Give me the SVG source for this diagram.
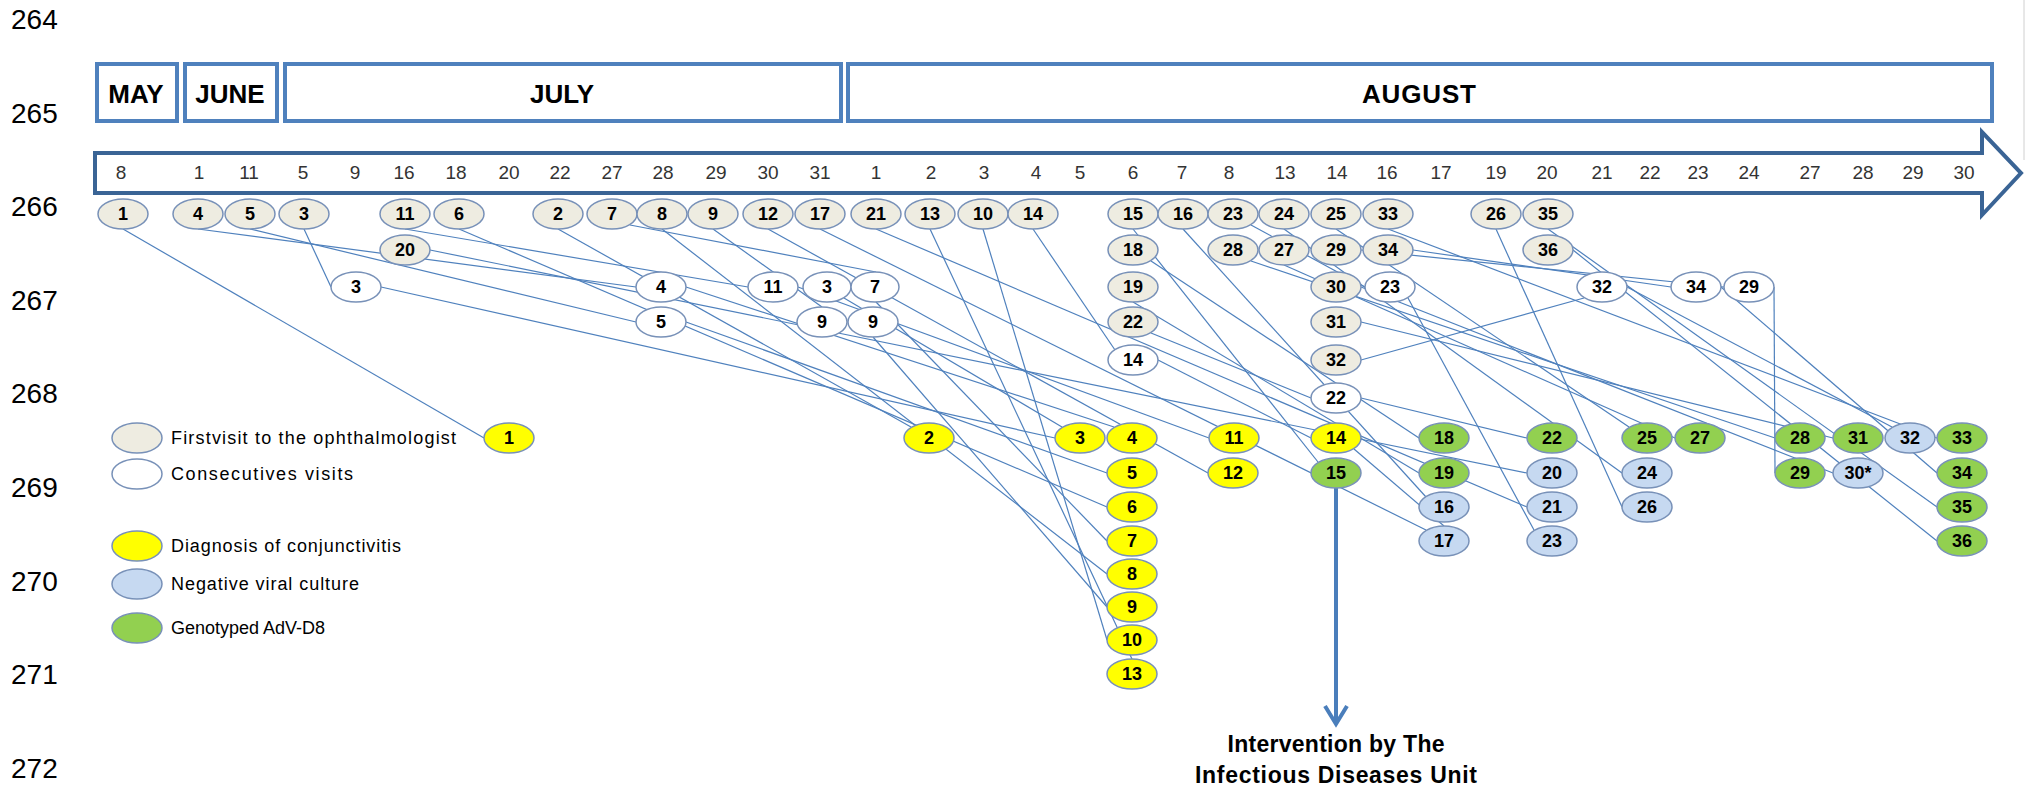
<svg xmlns="http://www.w3.org/2000/svg" width="2028" height="791" viewBox="0 0 2028 791">
<style>
.pg{font-family:"Liberation Sans",Arial,sans-serif;font-size:28px;fill:#000}
.mo{font-family:"Liberation Sans",Arial,sans-serif;font-size:26px;font-weight:bold;fill:#000;text-anchor:middle}
.dy{font-family:"Liberation Sans",Arial,sans-serif;font-size:19px;fill:#333;text-anchor:middle}
.box{fill:#fff;stroke:#4f81bd;stroke-width:4}
.n ellipse{stroke:#7891b8;stroke-width:1.5}
.n text{font-family:"Liberation Sans",Arial,sans-serif;font-size:18px;font-weight:bold;fill:#000;text-anchor:middle}
.g ellipse{fill:#eeece1}
.w ellipse{fill:#fff}
.y ellipse{fill:#ffff00}
.gr ellipse{fill:#92d050}
.b ellipse{fill:#c6d9f1}
.lg{font-family:"Liberation Sans",Arial,sans-serif;font-size:18px;fill:#000}
.it{font-family:"Liberation Sans",Arial,sans-serif;font-size:23px;font-weight:bold;fill:#000;text-anchor:middle}
#connectors line{stroke:#4f81bd;stroke-width:1.2}
</style>
<rect width="2028" height="791" fill="#fff"/>
<line x1="2024" y1="0" x2="2024" y2="160" stroke="#d0d0d0" stroke-width="1"/>
<g id="page-numbers">
<text class="pg" x="11" y="29">264</text>
<text class="pg" x="11" y="123">265</text>
<text class="pg" x="11" y="216">266</text>
<text class="pg" x="11" y="310">267</text>
<text class="pg" x="11" y="403">268</text>
<text class="pg" x="11" y="497">269</text>
<text class="pg" x="11" y="591">270</text>
<text class="pg" x="11" y="684">271</text>
<text class="pg" x="11" y="778">272</text>
</g>
<g id="months">
<rect class="box" x="97" y="64" width="80" height="57"/>
<text class="mo" x="136" y="103">MAY</text>
<rect class="box" x="185" y="64" width="92" height="57"/>
<text class="mo" x="230" y="103">JUNE</text>
<rect class="box" x="285" y="64" width="556" height="57"/>
<text class="mo" x="562" y="103">JULY</text>
<rect class="box" x="848" y="64" width="1144" height="57"/>
<text class="mo" x="1419" y="103" textLength="114">AUGUST</text>
</g>
<g id="timeline">
<path d="M95,153 H1982 V132 L2021,173 L1982,215 V193 H95 Z" fill="#fff" stroke="#3a6495" stroke-width="4" stroke-linejoin="miter"/>
<text class="dy" x="121" y="179">8</text>
<text class="dy" x="199" y="179">1</text>
<text class="dy" x="249" y="179">11</text>
<text class="dy" x="303" y="179">5</text>
<text class="dy" x="355" y="179">9</text>
<text class="dy" x="404" y="179">16</text>
<text class="dy" x="456" y="179">18</text>
<text class="dy" x="509" y="179">20</text>
<text class="dy" x="560" y="179">22</text>
<text class="dy" x="612" y="179">27</text>
<text class="dy" x="663" y="179">28</text>
<text class="dy" x="716" y="179">29</text>
<text class="dy" x="768" y="179">30</text>
<text class="dy" x="820" y="179">31</text>
<text class="dy" x="876" y="179">1</text>
<text class="dy" x="931" y="179">2</text>
<text class="dy" x="984" y="179">3</text>
<text class="dy" x="1036" y="179">4</text>
<text class="dy" x="1080" y="179">5</text>
<text class="dy" x="1133" y="179">6</text>
<text class="dy" x="1182" y="179">7</text>
<text class="dy" x="1229" y="179">8</text>
<text class="dy" x="1285" y="179">13</text>
<text class="dy" x="1337" y="179">14</text>
<text class="dy" x="1387" y="179">16</text>
<text class="dy" x="1441" y="179">17</text>
<text class="dy" x="1496" y="179">19</text>
<text class="dy" x="1547" y="179">20</text>
<text class="dy" x="1602" y="179">21</text>
<text class="dy" x="1650" y="179">22</text>
<text class="dy" x="1698" y="179">23</text>
<text class="dy" x="1749" y="179">24</text>
<text class="dy" x="1810" y="179">27</text>
<text class="dy" x="1863" y="179">28</text>
<text class="dy" x="1913" y="179">29</text>
<text class="dy" x="1964" y="179">30</text>
</g>
<g id="connectors">
<line x1="123" y1="229" x2="484" y2="438"/>
<line x1="558" y1="229" x2="911" y2="427"/>
<line x1="304" y1="229" x2="331" y2="287"/>
<line x1="381" y1="287" x2="1055" y2="438"/>
<line x1="844" y1="298" x2="1062" y2="427"/>
<line x1="198" y1="229" x2="636" y2="287"/>
<line x1="686" y1="287" x2="1114" y2="427"/>
<line x1="250" y1="229" x2="636" y2="322"/>
<line x1="686" y1="322" x2="1107" y2="473"/>
<line x1="459" y1="229" x2="1107" y2="507"/>
<line x1="630" y1="225" x2="876" y2="272"/>
<line x1="876" y1="302" x2="1107" y2="541"/>
<line x1="662" y1="229" x2="1107" y2="574"/>
<line x1="713" y1="229" x2="822" y2="307"/>
<line x1="873" y1="337" x2="1107" y2="607"/>
<line x1="983" y1="229" x2="1107" y2="640"/>
<line x1="405" y1="229" x2="748" y2="287"/>
<line x1="798" y1="287" x2="1209" y2="438"/>
<line x1="768" y1="229" x2="1208" y2="473"/>
<line x1="930" y1="229" x2="1132" y2="659"/>
<line x1="1033" y1="229" x2="1115" y2="350"/>
<line x1="1158" y1="360" x2="1311" y2="438"/>
<line x1="1133" y1="229" x2="1318" y2="462"/>
<line x1="1183" y1="229" x2="1426" y2="497"/>
<line x1="820" y1="229" x2="1426" y2="530"/>
<line x1="1151" y1="261" x2="1419" y2="438"/>
<line x1="1133" y1="302" x2="1419" y2="473"/>
<line x1="430" y1="250" x2="1527" y2="473"/>
<line x1="876" y1="229" x2="1527" y2="507"/>
<line x1="1151" y1="333" x2="1311" y2="398"/>
<line x1="1361" y1="398" x2="1527" y2="438"/>
<line x1="1251" y1="225" x2="1365" y2="287"/>
<line x1="1408" y1="298" x2="1534" y2="530"/>
<line x1="1284" y1="229" x2="1622" y2="473"/>
<line x1="1336" y1="229" x2="1629" y2="427"/>
<line x1="1496" y1="229" x2="1622" y2="507"/>
<line x1="1284" y1="265" x2="1675" y2="438"/>
<line x1="1251" y1="261" x2="1775" y2="438"/>
<line x1="1361" y1="250" x2="1724" y2="287"/>
<line x1="1774" y1="287" x2="1775" y2="473"/>
<line x1="1361" y1="287" x2="1833" y2="473"/>
<line x1="1361" y1="322" x2="1833" y2="438"/>
<line x1="1361" y1="360" x2="1584" y2="298"/>
<line x1="1627" y1="287" x2="1892" y2="427"/>
<line x1="1388" y1="229" x2="1937" y2="438"/>
<line x1="1413" y1="250" x2="1671" y2="287"/>
<line x1="1721" y1="287" x2="1937" y2="473"/>
<line x1="1548" y1="229" x2="1937" y2="507"/>
<line x1="1573" y1="250" x2="1937" y2="541"/>
<line x1="1354" y1="449" x2="1444" y2="526"/>
</g>
<g id="intervention">
<line x1="1336" y1="488" x2="1336" y2="722" stroke="#4a7ebb" stroke-width="4"/>
<polyline points="1325,706 1336,724 1347,706" fill="none" stroke="#4a7ebb" stroke-width="4"/>
<text class="it" x="1336" y="752" textLength="217">Intervention by The</text>
<text class="it" x="1336" y="783" textLength="282">Infectious Diseases Unit</text>
</g>
<g id="legend">
<g class="n g"><ellipse cx="137" cy="438" rx="25" ry="15"/></g>
<text class="lg" x="171" y="444" textLength="285">Firstvisit to the ophthalmologist</text>
<g class="n w"><ellipse cx="137" cy="474" rx="25" ry="15"/></g>
<text class="lg" x="171" y="480" textLength="182">Consecutives visits</text>
<g class="n y"><ellipse cx="137" cy="546" rx="25" ry="15"/></g>
<text class="lg" x="171" y="552" textLength="230">Diagnosis of conjunctivitis</text>
<g class="n b"><ellipse cx="137" cy="584" rx="25" ry="15"/></g>
<text class="lg" x="171" y="590" textLength="188">Negative viral culture</text>
<g class="n gr"><ellipse cx="137" cy="628" rx="25" ry="15"/></g>
<text class="lg" x="171" y="634">Genotyped AdV-D8</text>
</g>
<g id="nodes">
<g id="g1" class="n g"><ellipse cx="123" cy="214" rx="25" ry="15"/><text x="123" y="220">1</text></g>
<g id="g4" class="n g"><ellipse cx="198" cy="214" rx="25" ry="15"/><text x="198" y="220">4</text></g>
<g id="g5" class="n g"><ellipse cx="250" cy="214" rx="25" ry="15"/><text x="250" y="220">5</text></g>
<g id="g3" class="n g"><ellipse cx="304" cy="214" rx="25" ry="15"/><text x="304" y="220">3</text></g>
<g id="g11" class="n g"><ellipse cx="405" cy="214" rx="25" ry="15"/><text x="405" y="220">11</text></g>
<g id="g6" class="n g"><ellipse cx="459" cy="214" rx="25" ry="15"/><text x="459" y="220">6</text></g>
<g id="g2" class="n g"><ellipse cx="558" cy="214" rx="25" ry="15"/><text x="558" y="220">2</text></g>
<g id="g7" class="n g"><ellipse cx="612" cy="214" rx="25" ry="15"/><text x="612" y="220">7</text></g>
<g id="g8" class="n g"><ellipse cx="662" cy="214" rx="25" ry="15"/><text x="662" y="220">8</text></g>
<g id="g9" class="n g"><ellipse cx="713" cy="214" rx="25" ry="15"/><text x="713" y="220">9</text></g>
<g id="g12" class="n g"><ellipse cx="768" cy="214" rx="25" ry="15"/><text x="768" y="220">12</text></g>
<g id="g17" class="n g"><ellipse cx="820" cy="214" rx="25" ry="15"/><text x="820" y="220">17</text></g>
<g id="g21" class="n g"><ellipse cx="876" cy="214" rx="25" ry="15"/><text x="876" y="220">21</text></g>
<g id="g13" class="n g"><ellipse cx="930" cy="214" rx="25" ry="15"/><text x="930" y="220">13</text></g>
<g id="g10" class="n g"><ellipse cx="983" cy="214" rx="25" ry="15"/><text x="983" y="220">10</text></g>
<g id="g14" class="n g"><ellipse cx="1033" cy="214" rx="25" ry="15"/><text x="1033" y="220">14</text></g>
<g id="g15" class="n g"><ellipse cx="1133" cy="214" rx="25" ry="15"/><text x="1133" y="220">15</text></g>
<g id="g16" class="n g"><ellipse cx="1183" cy="214" rx="25" ry="15"/><text x="1183" y="220">16</text></g>
<g id="g23" class="n g"><ellipse cx="1233" cy="214" rx="25" ry="15"/><text x="1233" y="220">23</text></g>
<g id="g24" class="n g"><ellipse cx="1284" cy="214" rx="25" ry="15"/><text x="1284" y="220">24</text></g>
<g id="g25" class="n g"><ellipse cx="1336" cy="214" rx="25" ry="15"/><text x="1336" y="220">25</text></g>
<g id="g33" class="n g"><ellipse cx="1388" cy="214" rx="25" ry="15"/><text x="1388" y="220">33</text></g>
<g id="g26" class="n g"><ellipse cx="1496" cy="214" rx="25" ry="15"/><text x="1496" y="220">26</text></g>
<g id="g35" class="n g"><ellipse cx="1548" cy="214" rx="25" ry="15"/><text x="1548" y="220">35</text></g>
<g id="g20" class="n g"><ellipse cx="405" cy="250" rx="25" ry="15"/><text x="405" y="256">20</text></g>
<g id="g18" class="n g"><ellipse cx="1133" cy="250" rx="25" ry="15"/><text x="1133" y="256">18</text></g>
<g id="g28" class="n g"><ellipse cx="1233" cy="250" rx="25" ry="15"/><text x="1233" y="256">28</text></g>
<g id="g27" class="n g"><ellipse cx="1284" cy="250" rx="25" ry="15"/><text x="1284" y="256">27</text></g>
<g id="g29" class="n g"><ellipse cx="1336" cy="250" rx="25" ry="15"/><text x="1336" y="256">29</text></g>
<g id="g34" class="n g"><ellipse cx="1388" cy="250" rx="25" ry="15"/><text x="1388" y="256">34</text></g>
<g id="g36" class="n g"><ellipse cx="1548" cy="250" rx="25" ry="15"/><text x="1548" y="256">36</text></g>
<g id="g19" class="n g"><ellipse cx="1133" cy="287" rx="25" ry="15"/><text x="1133" y="293">19</text></g>
<g id="g30" class="n g"><ellipse cx="1336" cy="287" rx="25" ry="15"/><text x="1336" y="293">30</text></g>
<g id="g22" class="n g"><ellipse cx="1133" cy="322" rx="25" ry="15"/><text x="1133" y="328">22</text></g>
<g id="g31" class="n g"><ellipse cx="1336" cy="322" rx="25" ry="15"/><text x="1336" y="328">31</text></g>
<g id="g32" class="n g"><ellipse cx="1336" cy="360" rx="25" ry="15"/><text x="1336" y="366">32</text></g>
<g id="w3a" class="n w"><ellipse cx="356" cy="287" rx="25" ry="15"/><text x="356" y="293">3</text></g>
<g id="w4" class="n w"><ellipse cx="661" cy="287" rx="25" ry="15"/><text x="661" y="293">4</text></g>
<g id="w11" class="n w"><ellipse cx="773" cy="287" rx="25" ry="15"/><text x="773" y="293">11</text></g>
<g id="w3b" class="n w"><ellipse cx="827" cy="287" rx="24" ry="15"/><text x="827" y="293">3</text></g>
<g id="w7" class="n w"><ellipse cx="875" cy="287" rx="24" ry="15"/><text x="875" y="293">7</text></g>
<g id="w23" class="n w"><ellipse cx="1390" cy="287" rx="25" ry="15"/><text x="1390" y="293">23</text></g>
<g id="w32" class="n w"><ellipse cx="1602" cy="287" rx="25" ry="15"/><text x="1602" y="293">32</text></g>
<g id="w34" class="n w"><ellipse cx="1696" cy="287" rx="25" ry="15"/><text x="1696" y="293">34</text></g>
<g id="w29" class="n w"><ellipse cx="1749" cy="287" rx="25" ry="15"/><text x="1749" y="293">29</text></g>
<g id="w5" class="n w"><ellipse cx="661" cy="322" rx="25" ry="15"/><text x="661" y="328">5</text></g>
<g id="w9a" class="n w"><ellipse cx="822" cy="322" rx="25" ry="15"/><text x="822" y="328">9</text></g>
<g id="w9b" class="n w"><ellipse cx="873" cy="322" rx="25" ry="15"/><text x="873" y="328">9</text></g>
<g id="w14" class="n w"><ellipse cx="1133" cy="360" rx="25" ry="15"/><text x="1133" y="366">14</text></g>
<g id="w22" class="n w"><ellipse cx="1336" cy="398" rx="25" ry="15"/><text x="1336" y="404">22</text></g>
<g id="y1" class="n y"><ellipse cx="509" cy="438" rx="25" ry="15"/><text x="509" y="444">1</text></g>
<g id="y2" class="n y"><ellipse cx="929" cy="438" rx="25" ry="15"/><text x="929" y="444">2</text></g>
<g id="y3" class="n y"><ellipse cx="1080" cy="438" rx="25" ry="15"/><text x="1080" y="444">3</text></g>
<g id="y4" class="n y"><ellipse cx="1132" cy="438" rx="25" ry="15"/><text x="1132" y="444">4</text></g>
<g id="y11" class="n y"><ellipse cx="1234" cy="438" rx="25" ry="15"/><text x="1234" y="444">11</text></g>
<g id="y14" class="n y"><ellipse cx="1336" cy="438" rx="25" ry="15"/><text x="1336" y="444">14</text></g>
<g id="y5" class="n y"><ellipse cx="1132" cy="473" rx="25" ry="15"/><text x="1132" y="479">5</text></g>
<g id="y12" class="n y"><ellipse cx="1233" cy="473" rx="25" ry="15"/><text x="1233" y="479">12</text></g>
<g id="y6" class="n y"><ellipse cx="1132" cy="507" rx="25" ry="15"/><text x="1132" y="513">6</text></g>
<g id="y7" class="n y"><ellipse cx="1132" cy="541" rx="25" ry="15"/><text x="1132" y="547">7</text></g>
<g id="y8" class="n y"><ellipse cx="1132" cy="574" rx="25" ry="15"/><text x="1132" y="580">8</text></g>
<g id="y9" class="n y"><ellipse cx="1132" cy="607" rx="25" ry="15"/><text x="1132" y="613">9</text></g>
<g id="y10" class="n y"><ellipse cx="1132" cy="640" rx="25" ry="15"/><text x="1132" y="646">10</text></g>
<g id="y13" class="n y"><ellipse cx="1132" cy="674" rx="25" ry="15"/><text x="1132" y="680">13</text></g>
<g id="c18" class="n gr"><ellipse cx="1444" cy="438" rx="25" ry="15"/><text x="1444" y="444">18</text></g>
<g id="c22" class="n gr"><ellipse cx="1552" cy="438" rx="25" ry="15"/><text x="1552" y="444">22</text></g>
<g id="c25" class="n gr"><ellipse cx="1647" cy="438" rx="25" ry="15"/><text x="1647" y="444">25</text></g>
<g id="c27" class="n gr"><ellipse cx="1700" cy="438" rx="25" ry="15"/><text x="1700" y="444">27</text></g>
<g id="c28" class="n gr"><ellipse cx="1800" cy="438" rx="25" ry="15"/><text x="1800" y="444">28</text></g>
<g id="c31" class="n gr"><ellipse cx="1858" cy="438" rx="25" ry="15"/><text x="1858" y="444">31</text></g>
<g id="b32" class="n b"><ellipse cx="1910" cy="438" rx="25" ry="15"/><text x="1910" y="444">32</text></g>
<g id="c33" class="n gr"><ellipse cx="1962" cy="438" rx="25" ry="15"/><text x="1962" y="444">33</text></g>
<g id="c15" class="n gr"><ellipse cx="1336" cy="473" rx="25" ry="15"/><text x="1336" y="479">15</text></g>
<g id="c19" class="n gr"><ellipse cx="1444" cy="473" rx="25" ry="15"/><text x="1444" y="479">19</text></g>
<g id="b20" class="n b"><ellipse cx="1552" cy="473" rx="25" ry="15"/><text x="1552" y="479">20</text></g>
<g id="b24" class="n b"><ellipse cx="1647" cy="473" rx="25" ry="15"/><text x="1647" y="479">24</text></g>
<g id="c29" class="n gr"><ellipse cx="1800" cy="473" rx="25" ry="15"/><text x="1800" y="479">29</text></g>
<g id="b30" class="n b"><ellipse cx="1858" cy="473" rx="25" ry="15"/><text x="1858" y="479">30*</text></g>
<g id="c34" class="n gr"><ellipse cx="1962" cy="473" rx="25" ry="15"/><text x="1962" y="479">34</text></g>
<g id="b16" class="n b"><ellipse cx="1444" cy="507" rx="25" ry="15"/><text x="1444" y="513">16</text></g>
<g id="b21" class="n b"><ellipse cx="1552" cy="507" rx="25" ry="15"/><text x="1552" y="513">21</text></g>
<g id="b26" class="n b"><ellipse cx="1647" cy="507" rx="25" ry="15"/><text x="1647" y="513">26</text></g>
<g id="c35" class="n gr"><ellipse cx="1962" cy="507" rx="25" ry="15"/><text x="1962" y="513">35</text></g>
<g id="b17" class="n b"><ellipse cx="1444" cy="541" rx="25" ry="15"/><text x="1444" y="547">17</text></g>
<g id="b23" class="n b"><ellipse cx="1552" cy="541" rx="25" ry="15"/><text x="1552" y="547">23</text></g>
<g id="c36" class="n gr"><ellipse cx="1962" cy="541" rx="25" ry="15"/><text x="1962" y="547">36</text></g>
</g>
</svg>
